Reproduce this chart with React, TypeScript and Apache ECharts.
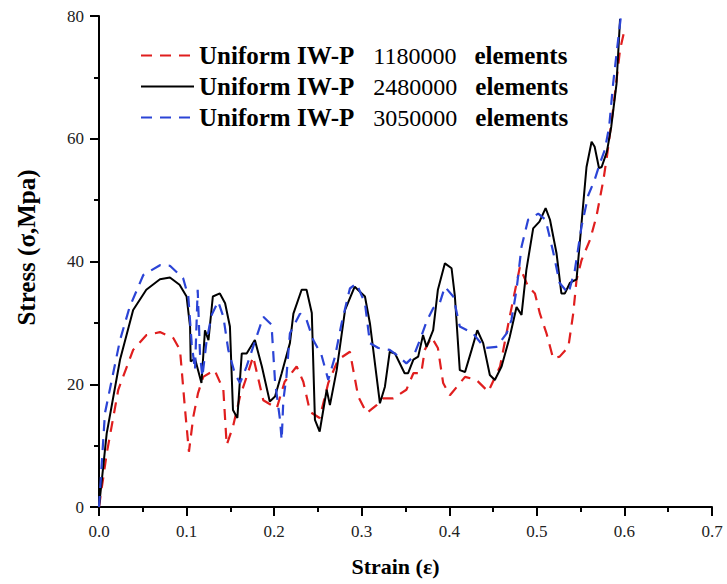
import React, { useEffect, useRef } from "react";
import * as echarts from "echarts";

const FONT = "'Liberation Serif', 'Times New Roman', serif";

const xTicks = [0, 0.1, 0.2, 0.3, 0.4, 0.5, 0.6, 0.7];
const yTicks = [0, 20, 40, 60, 80];
const elementCounts = ["1180000", "2480000", "3050000"];

const strainRed = [0, 0.0088, 0.022, 0.039, 0.054, 0.0696, 0.085, 0.0925, 0.098, 0.1027, 0.1077, 0.113, 0.119, 0.132, 0.142, 0.1458, 0.153, 0.161, 0.1686, 0.176, 0.1876, 0.203, 0.212, 0.2257, 0.2333, 0.241, 0.252, 0.2618, 0.273, 0.2865, 0.296, 0.3056, 0.317, 0.3245, 0.336, 0.351, 0.359, 0.368, 0.372, 0.3797, 0.387, 0.393, 0.4007, 0.418, 0.431, 0.4445, 0.458, 0.469, 0.4806, 0.49, 0.4978, 0.5035, 0.511, 0.5186, 0.526, 0.536, 0.5415, 0.5453, 0.551, 0.5606, 0.568, 0.576, 0.58, 0.587, 0.595, 0.6];
const stressRed = [0, 8.7, 19.1, 25.6, 28.0, 28.5, 27.5, 25.6, 16.3, 9.0, 14.7, 18.5, 21.2, 22.3, 19.1, 10.1, 13.1, 18.0, 21.2, 24.5, 17.4, 16.1, 20.4, 22.9, 20.4, 15.5, 14.5, 20.2, 24.0, 25.3, 18.0, 15.3, 16.6, 17.7, 17.7, 19.1, 21.8, 21.8, 25.6, 27.7, 25.9, 20.2, 18.2, 21.2, 20.7, 18.8, 22.9, 31.0, 39.1, 35.9, 34.8, 31.5, 28.3, 24.2, 24.5, 26.1, 31.5, 37.0, 40.2, 43.5, 47.3, 53.3, 57.1, 64.7, 74.5, 77.7];

const strainBlack = [0, 0.0088, 0.024, 0.039, 0.054, 0.0696, 0.081, 0.092, 0.1, 0.104, 0.1047, 0.1096, 0.117, 0.121, 0.125, 0.13, 0.138, 0.144, 0.1495, 0.153, 0.158, 0.163, 0.1686, 0.178, 0.186, 0.195, 0.201, 0.2086, 0.218, 0.222, 0.2314, 0.237, 0.243, 0.2466, 0.252, 0.26, 0.2637, 0.2714, 0.281, 0.292, 0.3037, 0.3094, 0.3208, 0.3265, 0.332, 0.338, 0.349, 0.353, 0.359, 0.3645, 0.37, 0.374, 0.3816, 0.387, 0.395, 0.4026, 0.4064, 0.412, 0.418, 0.4255, 0.432, 0.4387, 0.4463, 0.452, 0.4597, 0.469, 0.4768, 0.4825, 0.488, 0.4958, 0.503, 0.51, 0.515, 0.5225, 0.528, 0.532, 0.5377, 0.5453, 0.551, 0.5567, 0.5625, 0.566, 0.571, 0.574, 0.58, 0.585, 0.591, 0.595];
const stressBlack = [0, 12.0, 24.0, 32.1, 35.4, 37.1, 37.4, 36.2, 34.3, 29.4, 23.7, 24.2, 20.2, 28.8, 27.2, 34.3, 34.8, 33.2, 29.4, 15.8, 14.5, 25.0, 25.0, 27.2, 22.9, 17.2, 18.0, 21.8, 26.7, 31.5, 35.4, 35.4, 31.6, 14.2, 12.3, 19.1, 16.6, 22.3, 32.1, 35.9, 34.3, 29.9, 16.9, 19.6, 25.3, 25.0, 21.8, 21.8, 24.0, 24.5, 28.0, 26.1, 28.8, 35.4, 39.7, 38.9, 34.3, 22.3, 22.0, 25.6, 28.8, 26.7, 21.5, 20.7, 22.9, 27.7, 32.6, 31.3, 38.6, 45.4, 46.5, 48.7, 46.8, 41.3, 34.8, 34.8, 36.5, 37.1, 46.2, 55.4, 59.5, 58.7, 55.2, 55.4, 57.9, 62.0, 69.0, 79.5];

const strainBlue = [0, 0.0068, 0.024, 0.035, 0.0506, 0.0696, 0.081, 0.096, 0.102, 0.1058, 0.1096, 0.1127, 0.1153, 0.118, 0.123, 0.1287, 0.136, 0.142, 0.1476, 0.155, 0.161, 0.1686, 0.176, 0.1876, 0.197, 0.201, 0.2067, 0.2086, 0.2105, 0.214, 0.218, 0.2295, 0.237, 0.2447, 0.254, 0.2618, 0.2695, 0.277, 0.2865, 0.294, 0.3037, 0.3094, 0.319, 0.332, 0.3398, 0.351, 0.359, 0.3665, 0.374, 0.3816, 0.389, 0.395, 0.4045, 0.412, 0.427, 0.4407, 0.454, 0.4655, 0.471, 0.4768, 0.4825, 0.49, 0.5016, 0.51, 0.5186, 0.526, 0.536, 0.5434, 0.551, 0.5587, 0.566, 0.572, 0.5776, 0.5826, 0.5871, 0.5928, 0.596];
const stressBlue = [0, 15.3, 27.2, 32.6, 37.8, 39.4, 39.3, 37.3, 34.3, 26.7, 22.3, 35.4, 25.0, 21.2, 27.2, 31.3, 33.5, 31.0, 25.6, 21.8, 20.2, 22.9, 26.1, 31.0, 29.7, 20.5, 14.2, 10.9, 17.4, 21.2, 28.3, 31.5, 30.5, 27.2, 24.8, 20.7, 24.5, 29.9, 35.6, 36.4, 33.2, 26.7, 25.9, 25.6, 24.8, 23.4, 24.5, 27.2, 30.2, 32.4, 33.2, 35.9, 34.3, 29.4, 28.3, 25.9, 26.1, 28.3, 30.5, 35.4, 42.4, 46.8, 47.8, 46.8, 41.6, 36.5, 34.8, 38.6, 45.7, 50.8, 53.3, 56.0, 58.2, 62.0, 69.0, 76.1, 80.0];

const zip = (xs: number[], ys: number[]) => xs.map((x, i) => [x, ys[i]]);

export default function App() {
  const ref = useRef<HTMLDivElement>(null);
  useEffect(() => {
    if (!ref.current) return;
    const chart = echarts.init(ref.current, null, { renderer: "svg" });
    const mk = (name: string, data: number[][], color: string, type: any, width: number) => ({
      name,
      type: "line",
      data,
      symbol: "none",
      showSymbol: false,
      smooth: false,
      clip: true,
      lineStyle: { color, width, type },
      itemStyle: { color },
    });
    chart.setOption({
      animation: false,
      backgroundColor: "#ffffff",
      grid: { left: 99, right: 15, top: 16, bottom: 77, containLabel: false },
      legend: {
        orient: "vertical",
        left: 135,
        top: 38,
        itemWidth: 53,
        itemHeight: 14,
        itemGap: 6,
        data: elementCounts,
        itemStyle: { color: "rgba(0,0,0,0)", borderColor: "rgba(0,0,0,0)", borderWidth: 0, opacity: 0 },
        formatter: (name: string) => `{a|Uniform IW-P}{b|${name}}{c|elements}`,
        textStyle: {
          color: "#000",
          rich: {
            a: { fontFamily: FONT, fontWeight: "bold", fontSize: 25, lineHeight: 26, color: "#000" },
            b: { fontFamily: FONT, fontWeight: "normal", fontSize: 24, lineHeight: 26, color: "#000", padding: [0, 18, 0, 19] },
            c: { fontFamily: FONT, fontWeight: "bold", fontSize: 25, lineHeight: 26, color: "#000" },
          },
        },
      },
      xAxis: {
        type: "value",
        min: xTicks[0],
        max: xTicks[xTicks.length - 1],
        interval: 0.1,
        name: "Strain (ε)",
        nameLocation: "middle",
        nameGap: 48,
        nameTextStyle: { fontFamily: FONT, fontWeight: "bold", fontSize: 22, color: "#000", padding: [0, 20, 0, 0] },
        axisLine: { show: true, lineStyle: { color: "#000", width: 2 } },
        axisTick: { show: true, inside: false, length: 9, lineStyle: { color: "#000", width: 2 } },
        minorTick: { show: true, splitNumber: 2, length: 5, lineStyle: { color: "#000", width: 2 } },
        splitLine: { show: false },
        axisLabel: {
          margin: 16,
          fontFamily: FONT,
          fontSize: 17,
          color: "#222",
          formatter: (v: number) => v.toFixed(1),
        },
      },
      yAxis: {
        type: "value",
        min: yTicks[0],
        max: yTicks[yTicks.length - 1],
        interval: 20,
        name: "Stress (σ,Mpa)",
        nameLocation: "middle",
        nameGap: 60,
        nameTextStyle: { fontFamily: FONT, fontWeight: "bold", fontSize: 25, color: "#000", padding: [0, 0, 0, 28] },
        axisLine: { show: true, lineStyle: { color: "#000", width: 2 } },
        axisTick: { show: true, inside: false, length: 9, lineStyle: { color: "#000", width: 2 } },
        minorTick: { show: true, splitNumber: 2, length: 5, lineStyle: { color: "#000", width: 2 } },
        splitLine: { show: false },
        axisLabel: { margin: 15, fontFamily: FONT, fontSize: 17, color: "#222" },
      },
      series: [
        mk(elementCounts[0], zip(strainRed, stressRed), "#e01e1e", [11, 8], 2.2),
        mk(elementCounts[1], zip(strainBlack, stressBlack), "#000000", "solid", 2),
        mk(elementCounts[2], zip(strainBlue, stressBlue), "#2b44d6", [11, 8], 2.2),
      ],
    });
    return () => chart.dispose();
  }, []);
  return <div ref={ref} style={{ width: 727, height: 584, position: "absolute", left: 0, top: 0 }} />;
}
